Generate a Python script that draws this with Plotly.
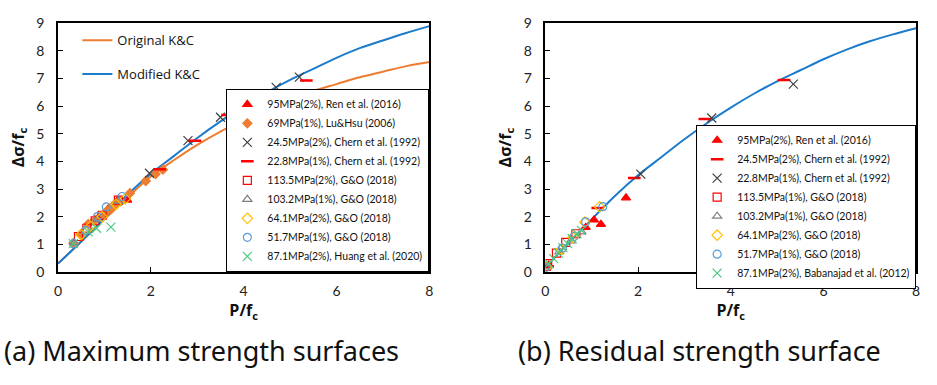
import plotly.graph_objects as go

# ---------------- data ----------------
curve_x = [0, 0.5, 1, 1.5, 2, 2.5, 3, 3.5, 4, 4.5, 5, 5.5, 6, 6.5, 7, 7.5, 8]
orig_kc = [0.3, 1.1, 1.9, 2.7, 3.45, 4.05, 4.6, 5.08, 5.5, 5.9, 6.25, 6.55, 6.8, 7.05, 7.25, 7.45, 7.6]
mod_kc_a = [0.3, 1.1, 1.95, 2.8, 3.55, 4.2, 4.85, 5.45, 6.0, 6.5, 6.95, 7.35, 7.75, 8.1, 8.38, 8.65, 8.9]
mod_kc_b = [0.15, 1.05, 1.9, 2.75, 3.5, 4.15, 4.8, 5.4, 5.95, 6.45, 6.9, 7.3, 7.7, 8.05, 8.35, 8.6, 8.82]

# (a) maximum strength surfaces
a_ren_x = [0.87, 1.08, 1.29, 1.49]
a_ren_y = [1.97, 2.28, 2.6, 2.6]
a_lu_x = [0.33, 0.48, 0.65, 0.8, 0.98, 1.15, 1.17, 1.22, 1.35, 1.55, 1.89, 2.1, 2.26, 1.05]
a_lu_y = [1.04, 1.35, 1.73, 1.88, 2.08, 2.28, 2.37, 2.45, 2.55, 2.85, 3.29, 3.54, 3.7, 2.2]
a_chern245_x = [1.97, 2.8, 3.5, 4.1, 4.7, 5.2]
a_chern245_y = [3.57, 4.75, 5.6, 6.28, 6.68, 7.05]
a_chern228_x = [2.19, 2.95, 3.65, 4.24, 4.8, 5.35]
a_chern228_y = [3.72, 4.75, 5.68, 6.15, 6.58, 6.93]
a_go1135_x = [0.44, 0.62, 0.8, 0.95, 1.3]
a_go1135_y = [1.28, 1.58, 1.85, 2.05, 2.6]
a_go1032_x = [0.35, 0.6, 0.85, 1.3]
a_go1032_y = [1.05, 1.5, 1.9, 2.55]
a_go641_x = [0.5, 0.7, 0.95, 1.25, 1.45]
a_go641_y = [1.35, 1.65, 2.0, 2.45, 2.65]
a_go517_x = [0.33, 0.59, 0.85, 1.04, 1.38]
a_go517_y = [1.02, 1.5, 2.0, 2.35, 2.73]
a_huang_x = [0.33, 0.65, 0.83, 1.14]
a_huang_y = [1.02, 1.45, 1.58, 1.62]

# (b) residual strength surface
b_ren_x = [0.07, 0.87, 1.05, 1.2, 1.74]
b_ren_y = [0.24, 1.61, 1.88, 1.72, 2.68]
b_chern245_x = [0.05, 1.13, 1.92, 3.44, 5.15]
b_chern245_y = [0.2, 2.31, 3.4, 5.54, 6.95]
b_chern228_x = [2.06, 3.59, 5.35]
b_chern228_y = [3.54, 5.57, 6.8]
b_go1135_x = [0.02, 0.05, 0.24, 0.44, 0.66]
b_go1135_y = [0.2, 0.3, 0.68, 1.07, 1.38]
b_go1032_x = [0.04, 0.3, 0.55, 0.78]
b_go1032_y = [0.18, 0.72, 1.12, 1.45]
b_go641_x = [0.03, 0.35, 0.6, 0.85, 1.17]
b_go641_y = [0.18, 0.82, 1.25, 1.8, 2.36]
b_go517_x = [0.0, 0.37, 0.62, 0.87, 1.24]
b_go517_y = [0.15, 0.86, 1.28, 1.81, 2.36]
b_bab_x = [0.08, 0.18, 0.28, 0.38, 0.48, 0.58, 0.68, 0.78]
b_bab_y = [0.3, 0.48, 0.68, 0.88, 1.02, 1.2, 1.38, 1.5]

x_ticks = [0, 2, 4, 6, 8]
y_ticks = [0, 1, 2, 3, 4, 5, 6, 7, 8, 9]

# ---------------- styles ----------------
ORANGE = "#ED7D31"
BLUE = "#1B7BCD"
RED = "#FF0000"

fig = go.Figure()

def add_pts(x, y, name, sym, color, size, xa, ya, legend, lw=1.2):
    fig.add_trace(go.Scatter(
        x=x, y=y, mode="markers", name=name, xaxis=xa, yaxis=ya, legend=legend,
        marker=dict(symbol=sym, color=color, size=size, line=dict(color=color, width=lw)),
    ))

# curves (a)
fig.add_trace(go.Scatter(x=curve_x, y=orig_kc, mode="lines", name="Original K&C",
                         line=dict(color=ORANGE, width=2, shape="spline"),
                         xaxis="x", yaxis="y", legend="legend", legendgroup="o"))
fig.add_trace(go.Scatter(x=curve_x, y=mod_kc_a, mode="lines", name="Modified K&C",
                         line=dict(color=BLUE, width=2, shape="spline"),
                         xaxis="x", yaxis="y", legend="legend", legendgroup="m"))

add_pts(a_ren_x, a_ren_y, "95MPa(2%), Ren et al. (2016)", "triangle-up", RED, 8, "x", "y", "legend2")
add_pts(a_lu_x, a_lu_y, "69MPa(1%), Lu&Hsu (2006)", "diamond", ORANGE, 7, "x", "y", "legend2")
add_pts(a_chern245_x, a_chern245_y, "24.5MPa(2%), Chern et al. (1992)", "x-thin-open", "#404040", 9, "x", "y", "legend2")
add_pts(a_chern228_x, a_chern228_y, "22.8MPa(1%), Chern et al. (1992)", "line-ew-open", RED, 9, "x", "y", "legend2", lw=2.5)
add_pts(a_go1135_x, a_go1135_y, "113.5MPa(2%), G&O (2018)", "square-open", RED, 8, "x", "y", "legend2")
add_pts(a_go1032_x, a_go1032_y, "103.2MPa(1%), G&O (2018)", "triangle-up-open", "#808080", 8, "x", "y", "legend2")
add_pts(a_go641_x, a_go641_y, "64.1MPa(2%), G&O (2018)", "diamond-open", "#FFC000", 8, "x", "y", "legend2")
add_pts(a_go517_x, a_go517_y, "51.7MPa(1%), G&O (2018)", "circle-open", "#5B9BD5", 8, "x", "y", "legend2")
add_pts(a_huang_x, a_huang_y, "87.1MPa(2%), Huang et al. (2020)", "x-thin-open", "#4CC985", 9, "x", "y", "legend2")

# curve (b)
fig.add_trace(go.Scatter(x=curve_x, y=mod_kc_b, mode="lines", name="Modified K&C",
                         line=dict(color=BLUE, width=2, shape="spline"),
                         xaxis="x2", yaxis="y2", showlegend=False))

add_pts(b_ren_x, b_ren_y, "95MPa(2%), Ren et al. (2016)", "triangle-up", RED, 8, "x2", "y2", "legend3")
add_pts(b_chern245_x, b_chern245_y, "24.5MPa(2%), Chern et al. (1992)", "line-ew-open", RED, 9, "x2", "y2", "legend3", lw=2.5)
add_pts(b_chern228_x, b_chern228_y, "22.8MPa(1%), Chern et al. (1992)", "x-thin-open", "#404040", 9, "x2", "y2", "legend3")
add_pts(b_go1135_x, b_go1135_y, "113.5MPa(1%), G&O (2018)", "square-open", RED, 8, "x2", "y2", "legend3")
add_pts(b_go1032_x, b_go1032_y, "103.2MPa(1%), G&O (2018)", "triangle-up-open", "#808080", 8, "x2", "y2", "legend3")
add_pts(b_go641_x, b_go641_y, "64.1MPa(2%), G&O (2018)", "diamond-open", "#FFC000", 8, "x2", "y2", "legend3")
add_pts(b_go517_x, b_go517_y, "51.7MPa(1%), G&O (2018)", "circle-open", "#5B9BD5", 8, "x2", "y2", "legend3")
add_pts(b_bab_x, b_bab_y, "87.1MPa(2%), Babanajad et al. (2012)", "x-thin-open", "#4CC985", 9, "x2", "y2", "legend3")

TICKFONT = dict(family="Lato", size=14, color="#222")
TITLEFONT = dict(family="Open Sans", size=16, color="#111")

def xaxis(domain, anchor):
    return dict(domain=domain, anchor=anchor, range=[0, 8], tickvals=x_ticks,
                showline=True, mirror=True, linecolor="black", linewidth=1.5,
                ticks="inside", ticklen=5, tickcolor="black", showgrid=False, zeroline=False,
                tickfont=TICKFONT, ticklabelstandoff=6,
                title=dict(text="<b>P/f<sub>c</sub></b>", font=TITLEFONT, standoff=5))

def yaxis(domain, anchor):
    return dict(domain=domain, anchor=anchor, range=[0, 9], tickvals=y_ticks,
                showline=True, mirror=True, linecolor="black", linewidth=1.5,
                ticks="inside", ticklen=5, tickcolor="black", showgrid=False, zeroline=False,
                tickfont=TICKFONT, ticklabelstandoff=9,
                title=dict(text="<b>Δσ/f<sub>c</sub></b>", font=TITLEFONT, standoff=8))

W, H = 937, 385
ydom = [(H - 275) / H, (H - 15) / H]

fig.update_layout(
    width=W, height=H, margin=dict(l=0, r=0, t=0, b=0),
    paper_bgcolor="white", plot_bgcolor="white",
    xaxis=xaxis([54.5 / W, 429 / W], "y"),
    yaxis=yaxis(ydom, "x"),
    xaxis2=xaxis([546 / W, 920 / W], "y2"),
    yaxis2=yaxis(ydom, "x2"),
    legend=dict(x=74 / W, y=1 - 17 / H, xanchor="left", yanchor="top",
                font=dict(family="Open Sans", size=13, color="#111"),
                bgcolor="rgba(0,0,0,0)", tracegroupgap=14, traceorder="grouped"),
    legend2=dict(x=429 / W, y=(H - 275) / H, xanchor="right", yanchor="bottom",
                 font=dict(family="Lato", size=10.5, color="#111"),
                 bgcolor="white", bordercolor="black", borderwidth=1, tracegroupgap=0),
    legend3=dict(x=920 / W, y=1 - 121 / H, xanchor="right", yanchor="top",
                 font=dict(family="Lato", size=10.5, color="#111"),
                 bgcolor="white", bordercolor="black", borderwidth=1, tracegroupgap=0),
    annotations=[
        dict(text="(a) Maximum strength surfaces", x=199 / W, y=(H - 357) / H,
             xref="paper", yref="paper", showarrow=False, xanchor="center", yanchor="middle",
             font=dict(family="Noto Sans", size=27, color="#111")),
        dict(text="(b) Residual strength surface", x=701 / W, y=(H - 357) / H,
             xref="paper", yref="paper", showarrow=False, xanchor="center", yanchor="middle",
             font=dict(family="Noto Sans", size=27, color="#111")),
    ],
)

fig.write_html("out.html", config={"displayModeBar": False},
               post_script="document.body.style.margin='0px';")
